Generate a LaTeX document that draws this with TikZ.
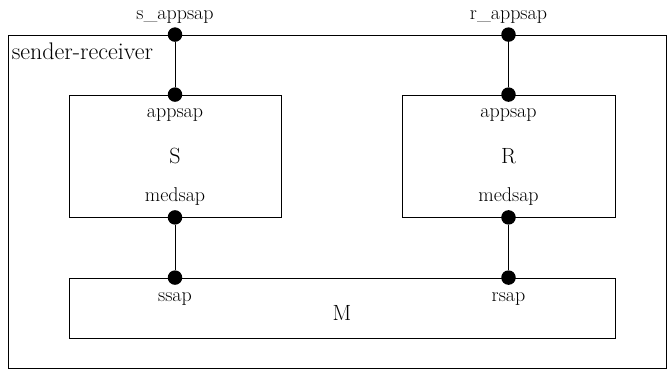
\documentclass[tikz,border=0pt]{standalone}
\usepackage{fontspec}
\usetikzlibrary{positioning}
\tikzset{
    box/.style={draw, line width=0.8pt, inner sep=0pt, font=\fontsize{22}{22}\selectfont},
    sapdot/.style={circle, fill=black, inner sep=0pt, minimum size=14.5pt},
    saplabel/.style={font=\fontsize{20}{20}\selectfont, inner sep=1pt},
    link/.style={line width=0.8pt}
}

\begin{document}
\begin{tikzpicture}[x=1pt, y=1pt]
        \useasboundingbox (0,0) rectangle (667,370);
        % boxes
        \node[box, minimum width=658, minimum height=333] (outer) at (337,168.5) {};
        \node[box, minimum width=212, minimum height=122] (S) at (175,214) {S};
        \node[box, minimum width=213, minimum height=122] (R) at (508.5,214) {R};
        \node[box, minimum width=546, minimum height=60, text height=24pt, text depth=0pt] (M) at (342,62) {M};
        \node[anchor=base west, inner sep=0pt, font=\fontsize{24}{24}\selectfont]
            (title) at ([xshift=4pt, yshift=-25pt]outer.north west) {sender-receiver};
        % service access points
        \node[sapdot] (s_app) at (S.north |- outer.north) {};
        \node[sapdot] (r_app) at (R.north |- outer.north) {};
        \node[sapdot] (s_in) at (S.north) {};
        \node[sapdot] (r_in) at (R.north) {};
        \node[sapdot] (s_med) at (S.south) {};
        \node[sapdot] (r_med) at (R.south) {};
        \node[sapdot] (m_s) at (S.south |- M.north) {};
        \node[sapdot] (m_r) at (R.south |- M.north) {};
        % labels
        \node[saplabel, above=3pt of s_app] (l_sapp) {s\_appsap};
        \node[saplabel, above=3pt of r_app] (l_rapp) {r\_appsap};
        \node[saplabel, below=5pt of s_in] (l_sin) {appsap};
        \node[saplabel, below=5pt of r_in] (l_rin) {appsap};
        \node[saplabel, above=3pt of s_med] (l_smed) {medsap};
        \node[saplabel, above=3pt of r_med] (l_rmed) {medsap};
        \node[saplabel, below=6pt of m_s] (l_ms) {ssap};
        \node[saplabel, below=6pt of m_r] (l_mr) {rsap};
        % connectors
        \draw[link] (s_app) -- (s_in);
        \draw[link] (r_app) -- (r_in);
        \draw[link] (s_med) -- (m_s);
        \draw[link] (r_med) -- (m_r);
\end{tikzpicture}
\end{document}
